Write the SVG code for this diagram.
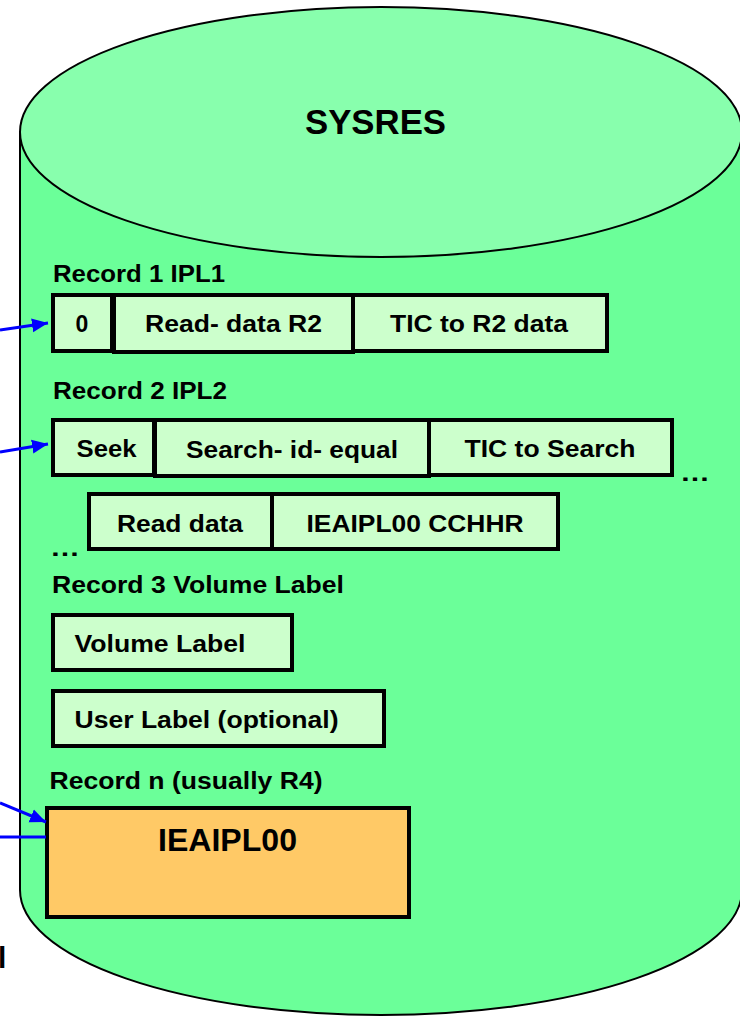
<svg xmlns="http://www.w3.org/2000/svg" width="740" height="1016" viewBox="0 0 740 1016">
<style>
.t{font-family:"Liberation Sans",Arial,sans-serif;font-weight:bold;font-size:23px;fill:#000}
.box{fill:#CCFFCC;stroke:#000;stroke-width:4}
.big{fill:#FFC966;stroke:#000;stroke-width:4}
.arr{stroke:#0000FF;stroke-width:3;fill:none}
</style>
<defs>
<marker id="ah" markerUnits="userSpaceOnUse" markerWidth="18" markerHeight="16" refX="16" refY="8" orient="auto">
<path d="M0,1 L16,8 L0,15 Z" fill="#0000FF"/>
</marker>
</defs>
<g id="sysres">
<path d="M20,132 L20,890 A361,125 0 0 0 742,890 L742,132 Z" fill="#6BFF99" stroke="#000" stroke-width="2"/>
<ellipse cx="381" cy="132" rx="361" ry="125" fill="#88FFAD" stroke="#000" stroke-width="2"/>
<text class="t" x="305" y="134" style="font-size:35px" textLength="141" lengthAdjust="spacingAndGlyphs">SYSRES</text>
</g>
<g id="record1">
<text class="t" x="53" y="282" textLength="172" lengthAdjust="spacingAndGlyphs">Record 1 IPL1</text>
<rect class="box" x="53" y="295" width="59" height="56"/>
<rect class="box" x="114" y="295" width="239" height="57"/>
<rect class="box" x="353" y="295" width="254" height="56"/>
<text class="t" x="75.5" y="332">0</text>
<text class="t" x="145" y="332" textLength="177" lengthAdjust="spacingAndGlyphs">Read- data R2</text>
<text class="t" x="390" y="332" textLength="178" lengthAdjust="spacingAndGlyphs">TIC to R2 data</text>
</g>
<g id="record2">
<text class="t" x="53" y="399" textLength="174" lengthAdjust="spacingAndGlyphs">Record 2 IPL2</text>
<rect class="box" x="53" y="420" width="101" height="55"/>
<rect class="box" x="155" y="420" width="274" height="56"/>
<rect class="box" x="429" y="420" width="243" height="55"/>
<text class="t" x="76.5" y="457" textLength="60" lengthAdjust="spacingAndGlyphs">Seek</text>
<text class="t" x="186" y="458" textLength="212" lengthAdjust="spacingAndGlyphs">Search- id- equal</text>
<text class="t" x="464.5" y="457" textLength="171" lengthAdjust="spacingAndGlyphs">TIC to Search</text>
<text class="t" x="680" y="481" textLength="30" lengthAdjust="spacingAndGlyphs">…</text>
<rect class="box" x="89" y="494" width="183" height="55"/>
<rect class="box" x="272" y="494" width="286" height="55"/>
<text class="t" x="117" y="532" textLength="126" lengthAdjust="spacingAndGlyphs">Read data</text>
<text class="t" x="306.5" y="532" textLength="217" lengthAdjust="spacingAndGlyphs">IEAIPL00 CCHHR</text>
<text class="t" x="50" y="556" textLength="30" lengthAdjust="spacingAndGlyphs">…</text>
</g>
<g id="record3">
<text class="t" x="52" y="593" textLength="292" lengthAdjust="spacingAndGlyphs">Record 3 Volume Label</text>
<rect class="box" x="53" y="615" width="239" height="55"/>
<text class="t" x="74.5" y="652" textLength="171" lengthAdjust="spacingAndGlyphs">Volume Label</text>
<rect class="box" x="53" y="691" width="331" height="55"/>
<text class="t" x="74.5" y="728" textLength="264" lengthAdjust="spacingAndGlyphs">User Label (optional)</text>
</g>
<g id="recordn">
<text class="t" x="49.5" y="789" textLength="273" lengthAdjust="spacingAndGlyphs">Record n (usually R4)</text>
<rect class="big" x="47" y="808" width="362" height="109"/>
<text class="t" x="158" y="851" style="font-size:32px" textLength="139" lengthAdjust="spacingAndGlyphs">IEAIPL00</text>
</g>
<g id="fragment">
<text class="t" x="-2" y="968" style="font-size:30px">l</text>
</g>
<g id="connectors">
<line class="arr" x1="0" y1="330" x2="48" y2="323" marker-end="url(#ah)"/>
<line class="arr" x1="0" y1="452" x2="48" y2="444" marker-end="url(#ah)"/>
<line class="arr" x1="0" y1="803" x2="46" y2="822" marker-end="url(#ah)"/>
<line class="arr" x1="0" y1="837" x2="46" y2="837"/>
</g>
</svg>
